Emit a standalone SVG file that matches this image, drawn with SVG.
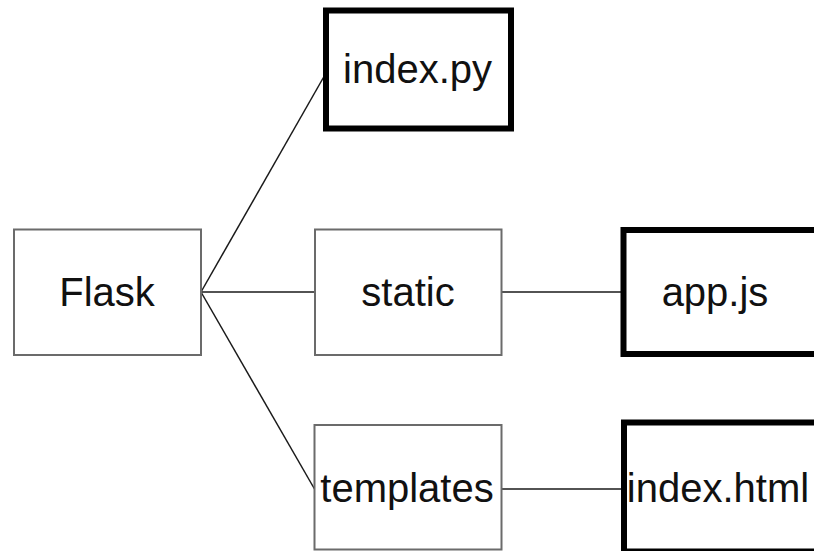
<svg xmlns="http://www.w3.org/2000/svg" width="814" height="551" viewBox="0 0 814 551">
  <style>
    .dir { fill: #ffffff; stroke: #6b6b6b; stroke-width: 2; }
    .file { fill: #ffffff; stroke: #000000; stroke-width: 6; }
    .label { font-family: "Liberation Sans", Arial, sans-serif; font-size: 40px; fill: #111111; text-anchor: middle; }
    .link { stroke: #1a1a1a; stroke-width: 1.5; fill: none; }
  </style>
  <rect width="814" height="551" fill="#ffffff"/>

  <!-- tree edges -->
  <g id="connectors">
    <line class="link" x1="201" y1="292" x2="326" y2="73"/>
    <line class="link" x1="201" y1="292" x2="315" y2="292"/>
    <line class="link" x1="201" y1="292" x2="314.5" y2="489"/>
    <line class="link" x1="501" y1="292" x2="623.5" y2="292"/>
    <line class="link" x1="502" y1="489" x2="624" y2="489"/>
  </g>

  <g id="flask">
    <rect class="dir" x="14" y="229.5" width="187" height="125.5"/>
    <text class="label" x="107" y="306">Flask</text>
  </g>

  <g id="index-py">
    <rect class="file" x="326" y="10.5" width="185" height="118"/>
    <text class="label" x="417.5" y="83">index.py</text>
  </g>

  <g id="static">
    <rect class="dir" x="315" y="229.5" width="186.5" height="125.5"/>
    <text class="label" x="408" y="306">static</text>
  </g>

  <g id="app-js">
    <rect class="file" x="623.5" y="230" width="200" height="124"/>
    <text class="label" x="715" y="306">app.js</text>
  </g>

  <g id="templates">
    <rect class="dir" x="314.5" y="425" width="187" height="124.5"/>
    <text class="label" x="407" y="502">templates</text>
  </g>

  <g id="index-html">
    <rect class="file" x="624" y="422.5" width="200" height="129"/>
    <text class="label" x="718" y="502">index.html</text>
  </g>
</svg>
